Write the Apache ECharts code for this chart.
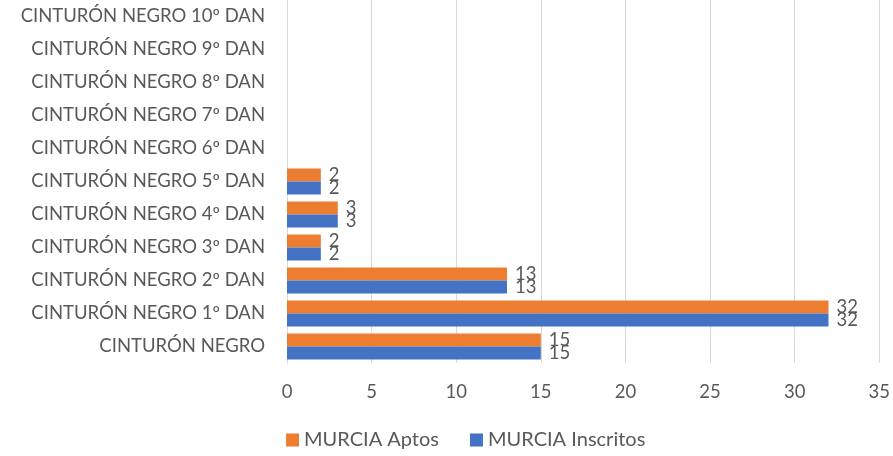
<!DOCTYPE html>
<html>
<head>
<meta charset="utf-8">
<script src="https://cdn.jsdelivr.net/npm/echarts@6/dist/echarts.min.js"></script>
<style>
  html, body { margin: 0; padding: 0; background: #fff; }
  #chart { width: 893px; height: 456px; }
</style>
</head>
<body>
<div id="chart"></div>
<script>
let categories = [
  'CINTURÓN NEGRO', 'CINTURÓN NEGRO 1º DAN', 'CINTURÓN NEGRO 2º DAN', 'CINTURÓN NEGRO 3º DAN',
  'CINTURÓN NEGRO 4º DAN', 'CINTURÓN NEGRO 5º DAN', 'CINTURÓN NEGRO 6º DAN', 'CINTURÓN NEGRO 7º DAN',
  'CINTURÓN NEGRO 8º DAN', 'CINTURÓN NEGRO 9º DAN', 'CINTURÓN NEGRO 10º DAN'
]
  , inscritos = [15, 32, 13, 2, 3, 2, null, null, null, null, null]
  , aptos = [15, 32, 13, 2, 3, 2, null, null, null, null, null]
  , xTicks = { min: 0, max: 35, interval: 5 }

let textColor = '#595959'
  , font = 'Lato, "Open Sans", sans-serif'
  , fs = 18.5

let chart = echarts.init(document.getElementById('chart'))

let labelCfg = {
  show: true,
  position: 'right',
  distance: 8,
  color: textColor,
  fontSize: fs,
  fontFamily: font
}

chart.setOption({
  animation: false,
  grid: { left: 287, right: 13, top: 0, bottom: 93, containLabel: false },
  legend: {
    data: ['MURCIA Aptos', 'MURCIA Inscritos'],
    bottom: 1,
    left: 281,
    itemWidth: 13,
    itemHeight: 13,
    itemGap: 31,
    icon: 'rect',
    textStyle: { color: textColor, fontSize: 20, fontFamily: font }
  },
  xAxis: {
    type: 'value',
    min: xTicks.min,
    max: xTicks.max,
    interval: xTicks.interval,
    axisLine: { show: false },
    axisTick: { show: false },
    splitLine: { lineStyle: { color: '#d9d9d9', width: 1 } },
    axisLabel: { color: textColor, fontSize: fs, fontFamily: font, margin: 20 }
  },
  yAxis: {
    type: 'category',
    data: categories,
    axisLine: { lineStyle: { color: '#d9d9d9' } },
    axisTick: { show: false },
    axisLabel: { color: textColor, fontSize: fs, fontFamily: font, margin: 22 }
  },
  series: [
    {
      name: 'MURCIA Aptos',
      type: 'bar',
      data: aptos,
      barWidth: 13,
      barGap: '0%',
      itemStyle: { color: '#ed7d31' },
      label: labelCfg
    },
    {
      name: 'MURCIA Inscritos',
      type: 'bar',
      data: inscritos,
      barWidth: 13,
      barGap: '0%',
      itemStyle: { color: '#4472c4' },
      label: labelCfg
    }
  ]
})
</script>
</body>
</html>
